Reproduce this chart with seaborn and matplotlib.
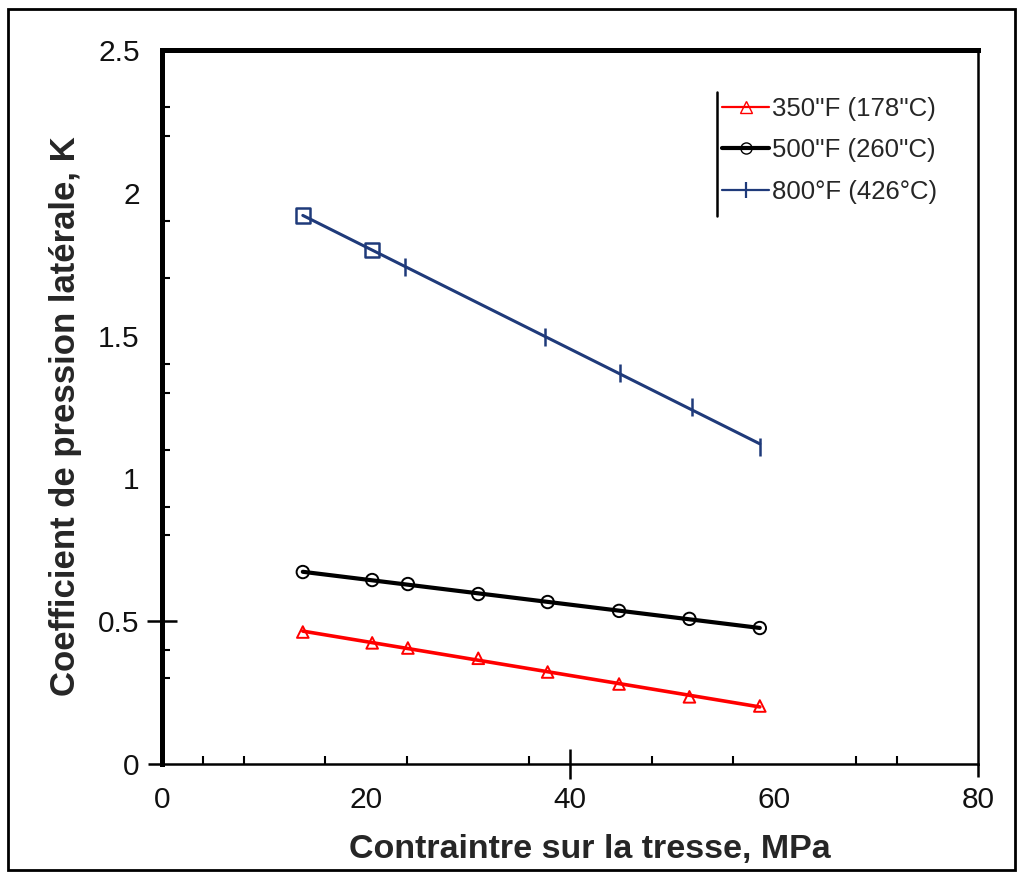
import matplotlib
matplotlib.use("Agg")
import matplotlib.pyplot as plt
from matplotlib.lines import Line2D
from matplotlib.patches import Rectangle
import numpy as np
import pandas as pd
import seaborn as sns

# Braid stress (MPa) and lateral pressure coefficient K at three temperatures
stress_350 = [13.8, 20.6, 24.1, 31.0, 37.8, 44.8, 51.7, 58.6]
k_350 = [0.462, 0.424, 0.406, 0.370, 0.322, 0.280, 0.235, 0.203]

stress_500 = [13.8, 20.6, 24.1, 31.0, 37.8, 44.8, 51.7, 58.6]
k_500 = [0.672, 0.644, 0.630, 0.595, 0.567, 0.536, 0.508, 0.476]

stress_800 = [13.8, 20.6, 23.8, 37.5, 44.9, 52.0, 58.6]
k_800 = [1.92, 1.80, 1.74, 1.495, 1.37, 1.25, 1.11]

series_labels = ["350''F (178''C)", "500''F (260''C)", "800°F (426°C)"]
x_ticks = [0, 20, 40, 60, 80]
y_ticks = [0, 0.5, 1, 1.5, 2, 2.5]
x_minor = [4, 8, 16, 24, 36, 48, 56, 68, 72]
y_minor = [0.3, 0.4, 0.8, 0.9, 1.1, 1.3, 1.4, 1.7, 1.9, 2.2, 2.3]

sns.set_theme(style="white")
plt.rcParams["font.family"] = ["Liberation Sans", "DejaVu Sans"]

fig = plt.figure(figsize=(10.21, 8.75), dpi=100)
ax = fig.add_axes([0.1587, 0.1269, 0.7993, 0.8160])

red, black, blue = "#ff0000", "#000000", "#1f3a7a"

# Trend lines
sns.regplot(x=stress_800, y=k_800, ax=ax, scatter=False, ci=None,
            line_kws=dict(color=blue, lw=2.2))
sns.regplot(x=stress_500, y=k_500, ax=ax, scatter=False, ci=None,
            line_kws=dict(color=black, lw=3.0))
sns.regplot(x=stress_350, y=k_350, ax=ax, scatter=False, ci=None,
            line_kws=dict(color=red, lw=2.6))

# Measured points
sns.scatterplot(x=stress_350, y=k_350, ax=ax, marker="^", s=70,
                facecolor="none", edgecolor=red, linewidth=1.4, zorder=3)
sns.scatterplot(x=stress_500, y=k_500, ax=ax, marker="o", s=80,
                facecolor="none", edgecolor=black, linewidth=1.4, zorder=3)
sns.scatterplot(x=stress_800[2:], y=k_800[2:], ax=ax, marker="|", s=150,
                color=blue, linewidth=1.8, zorder=3)
sns.scatterplot(x=stress_800[:2], y=k_800[:2], ax=ax, marker="s", s=110,
                facecolor="none", edgecolor=blue, linewidth=1.8, zorder=3)

ax.set_xlim(0, 80)
ax.set_ylim(0, 2.5)
ax.set_xticks(x_ticks)
ax.set_xticklabels([str(v) for v in x_ticks])
ax.set_yticks(y_ticks)
ax.set_yticklabels(["0", "0.5", "1", "1.5", "2", "2.5"])
ax.set_xticks(x_minor, minor=True)
ax.set_yticks(y_minor, minor=True)
ax.tick_params(axis="both", which="major", length=0, labelsize=21.5,
               labelcolor="#111111", pad=16, bottom=True, left=True)
ax.tick_params(axis="both", which="minor", direction="in", length=6,
               width=1.5, color="black", bottom=True, left=True)

# Longer crossing ticks
secx = ax.secondary_xaxis("bottom")
secx.set_xticks([40], labels=[""])
secx.tick_params(direction="inout", length=22, width=1.8, color="black")
secx.spines["bottom"].set_visible(False)
secx2 = ax.secondary_xaxis("bottom")
secx2.set_xticks([80], labels=[""])
secx2.tick_params(direction="out", length=9, width=1.8, color="black")
secx2.spines["bottom"].set_visible(False)
secy = ax.secondary_yaxis("left")
secy.set_yticks([0.5], labels=[""])
secy.tick_params(direction="inout", length=22, width=1.8, color="black")
secy.spines["left"].set_visible(False)
secy2 = ax.secondary_yaxis("left")
secy2.set_yticks([0], labels=[""])
secy2.tick_params(direction="out", length=10, width=1.8, color="black")
secy2.spines["left"].set_visible(False)

for side, lw in [("left", 3.6), ("top", 3.6), ("right", 1.8), ("bottom", 1.8)]:
    ax.spines[side].set_visible(True)
    ax.spines[side].set_color("black")
    ax.spines[side].set_linewidth(lw)

ax.set_xlabel("Contraintre sur la tresse, MPa", fontsize=24.5,
              fontweight="bold")
ax.set_ylabel("Coefficient de pression latérale, K", fontsize=25,
              fontweight="bold")
ax.xaxis.set_label_coords(0.524, -0.098)
ax.yaxis.set_label_coords(-0.098, 0.487)

handles = [
    Line2D([], [], color=red, lw=1.6, marker="^", markersize=8,
           markerfacecolor="none", markeredgecolor=red),
    Line2D([], [], color=black, lw=3.0, marker="o", markersize=8,
           markerfacecolor="none", markeredgecolor=black),
    Line2D([], [], color=blue, lw=1.6, marker="|", markersize=12,
           markeredgecolor=blue, markeredgewidth=1.6),
]
leg = ax.legend(handles, series_labels, loc="upper left",
                bbox_to_anchor=(0.686, 0.934), frameon=False, fontsize=18.5,
                handlelength=1.85, handletextpad=0.1, labelspacing=0.67,
                borderaxespad=0, borderpad=0)

# Vertical rule on the left of the legend
fig.canvas.draw()
bb = leg.get_window_extent().transformed(fig.transFigure.inverted())
fig.add_artist(Line2D([bb.x0 - 0.005, bb.x0 - 0.005],
                      [bb.y0 - 0.014, bb.y1 + 0.006],
                      transform=fig.transFigure, color="black", lw=1.8))

# Outer frame
fig.add_artist(Rectangle((0.008, 0.006), 0.986, 0.984,
                         transform=fig.transFigure, fill=False,
                         edgecolor="black", lw=2.0))

fig.savefig("out.png", dpi=100)
